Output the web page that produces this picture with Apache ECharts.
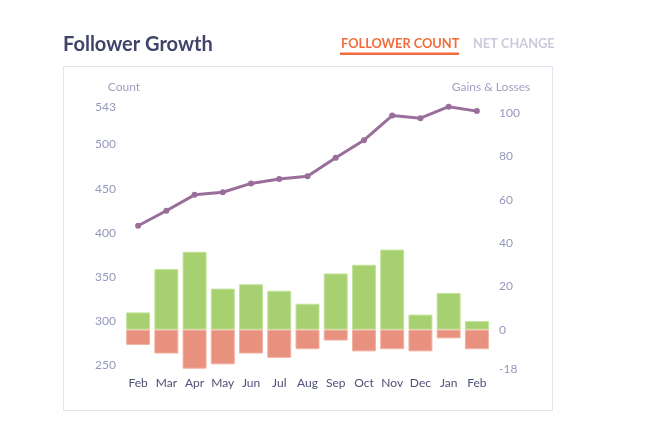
<!DOCTYPE html>
<html>
<head>
<meta charset="utf-8">
<script src="https://cdn.jsdelivr.net/npm/echarts@6/dist/echarts.min.js"></script>
<style>
html,body{margin:0;padding:0;background:#ffffff;}
#chart{width:662px;height:432px;}
</style>
</head>
<body>
<div id="chart"></div>
<script>
const months = ['Feb','Mar','Apr','May','Jun','Jul','Aug','Sep','Oct','Nov','Dec','Jan','Feb'];
const followerCount = [408,425,443,446,456,461,464,485,505,533,530,543,538];
const gains = [8,28,36,19,21,18,12,26,30,37,7,17,4];
const losses = [-7,-11,-18,-16,-11,-13,-9,-5,-10,-9,-10,-4,-9];
const countTicks = [250,300,350,400,450,500,543];
const changeTicks = [-18,0,20,40,60,80,100];

const FONT = 'Lato';
const chart = echarts.init(document.getElementById('chart'));
chart.setOption({
  backgroundColor: '#ffffff',
  textStyle: {fontFamily: FONT},
  animation: false,
  graphic: [
    {type:'rect', z:-10, shape:{x:63.5,y:66.5,width:489,height:344}, style:{fill:'#ffffff', stroke:'#e3e3ef', lineWidth:1}},
    {type:'text', left:63, top:35, style:{text:'Follower Growth', font:'bold 20px Lato', fill:'#3f4468'}},
    {type:'text', left:341, top:37, style:{text:'FOLLOWER COUNT', font:'bold 12.8px Lato', fill:'#f26d3d'}},
    {type:'rect', shape:{x:340,y:52.5,width:119,height:2.5}, style:{fill:'#f26d3d'}},
    {type:'text', left:473, top:37, style:{text:'NET CHANGE', font:'bold 12.8px Lato', fill:'#c9cadc'}}
  ],
  grid: {left:124, right:171, top:106.7, bottom:63.3},
  xAxis: {
    type:'category', data: months, boundaryGap:true,
    axisLine:{show:false}, axisTick:{show:false},
    axisLabel:{interval:0, color:'#4d5175', fontSize:12, margin:8, fontFamily:FONT}
  },
  yAxis: [
    {
      type:'value', min:245.8, max:543, position:'left',
      name:'Count', nameLocation:'end', nameGap:14,
      nameTextStyle:{color:'#9fa2c4', fontSize:12, fontFamily:FONT},
      axisLine:{show:false}, axisTick:{show:false}, splitLine:{show:false},
      axisLabel:{customValues: countTicks, color:'#9598bd', fontSize:12, margin:8, fontFamily:FONT}
    },
    {
      type:'value', min:-18, max:103, position:'right',
      name:'Gains & Losses', nameLocation:'end', nameGap:14,
      nameTextStyle:{color:'#9fa2c4', fontSize:12, fontFamily:FONT},
      axisLine:{show:false}, axisTick:{show:false}, splitLine:{show:false},
      axisLabel:{customValues: changeTicks, color:'#9598bd', fontSize:12, margin:8, fontFamily:FONT}
    }
  ],
  series: [
    {
      name:'Gains', type:'bar', yAxisIndex:1, stack:'net', data:gains, barWidth:24,
      itemStyle:{color:'#a7d170', borderColor:'#c4e29d', borderWidth:1}
    },
    {
      name:'Losses', type:'bar', yAxisIndex:1, stack:'net', data:losses, barWidth:24,
      itemStyle:{color:'#e8917f', borderColor:'#f3b1a3', borderWidth:1}
    },
    {
      name:'Count', type:'line', yAxisIndex:0, data:followerCount, z:5,
      symbol:'circle', symbolSize:6,
      lineStyle:{color:'#9a6e9b', width:3},
      itemStyle:{color:'#9a6e9b'}
    }
  ]
});
</script>
</body>
</html>
